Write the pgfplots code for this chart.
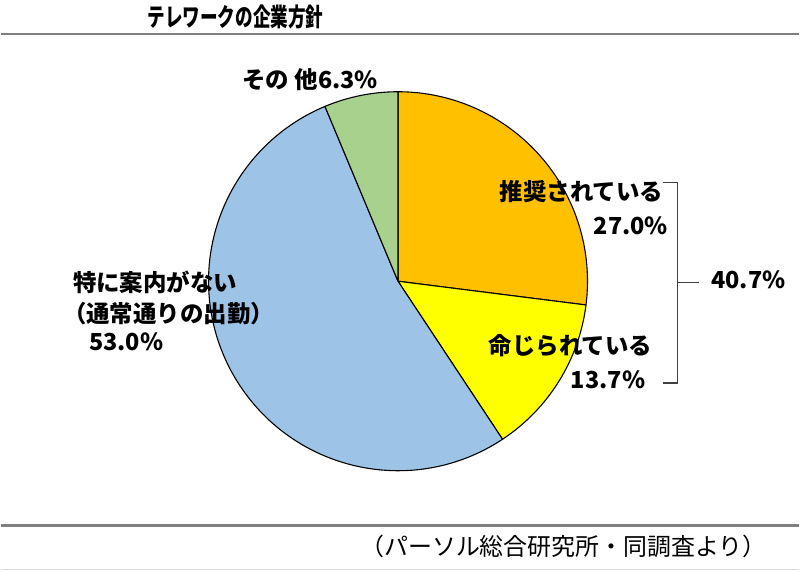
\documentclass[border=0pt]{standalone}
\usepackage{pgfplots}
\pgfplotsset{compat=1.18}
\usepackage{pgfplotstable}
\usepackage{fontspec}
\setmainfont{Noto Sans CJK JP}
\definecolor{c1}{HTML}{FFC000}
\definecolor{c2}{HTML}{FFFF00}
\definecolor{c3}{HTML}{9DC3E6}
\definecolor{c4}{HTML}{A9D18E}
\definecolor{rule}{HTML}{7F7F7F}
\pgfplotstableread{
value color
27.0 c1
13.7 c2
53.0 c3
6.3 c4
}\piedata
\begin{document}
\begin{tikzpicture}
\begin{axis}[
  width=800pt, height=573pt, scale only axis,
  xmin=0, xmax=800, ymin=0, ymax=573,
  hide axis, clip=false,
]
\path (axis cs:0,0) rectangle (axis cs:800,573);
\pgfplotstablegetrowsof{\piedata}
\pgfmathtruncatemacro{\n}{\pgfplotsretval-1}
\def\cum{0}
\pgfplotsforeachungrouped \i in {0,...,\n}{%
  \pgfplotstablegetelem{\i}{value}\of\piedata \let\val\pgfplotsretval
  \pgfplotstablegetelem{\i}{color}\of\piedata \let\col\pgfplotsretval
  \pgfmathsetmacro{\a}{90-3.6*\cum}%
  \pgfmathsetmacro{\b}{90-3.6*(\cum+\val)}%
  \pgfmathsetmacro{\cum}{\cum+\val}%
  \edef\temp{\noexpand\filldraw[fill=\col, draw=black, line width=1.1pt, line join=round] (axis cs:398,291) -- ++(\a:190pt) arc[start angle=\a, end angle=\b, radius=190pt] -- cycle;}%
  \temp
}
% rules
\draw[rule, line width=2.2pt] (axis cs:0,539) -- (axis cs:800,539);
\draw[rule, line width=2.2pt] (axis cs:0,46) -- (axis cs:800,46);
\draw[black!15, line width=1pt] (axis cs:0,2) -- (axis cs:800,2);
% title
\node[font=\fontsize{21}{24}\selectfont\bfseries, xscale=0.84, yscale=1.2, transform shape] at (axis cs:235,556) {テレワークの企業方針};
% footer
\node[anchor=west, font=\fontsize{24}{27}\selectfont, inner sep=0pt] at (axis cs:360,25) {（パーソル総合研究所・同調査より）};
% labels
\begin{scope}[every node/.style={font=\fontsize{23.5}{27}\selectfont\bfseries, inner sep=0pt}]
\node[anchor=center] at (axis cs:310,493) {その 他6.3\%};
\node[anchor=east] at (axis cs:664,381) {推奨されている};
\node[anchor=east] at (axis cs:669,347) {27.0\%};
\node[anchor=east] at (axis cs:653,226) {命じられている};
\node[anchor=east] at (axis cs:646,192) {13.7\%};
\node[anchor=west] at (axis cs:72,290) {特に案内がない};
\node[anchor=west] at (axis cs:62,259) {（通常通りの出勤）};
\node[anchor=west] at (axis cs:88,230) {53.0\%};
\node[anchor=west] at (axis cs:712,292) {40.7\%};
\end{scope}
% bracket
\draw[black!75, line width=1.3pt] (axis cs:664,390) -- (axis cs:678,390) -- (axis cs:678,189) -- (axis cs:664,189);
\draw[black!75, line width=1.3pt] (axis cs:678,290) -- (axis cs:700,290);
\end{axis}
\end{tikzpicture}
\end{document}
